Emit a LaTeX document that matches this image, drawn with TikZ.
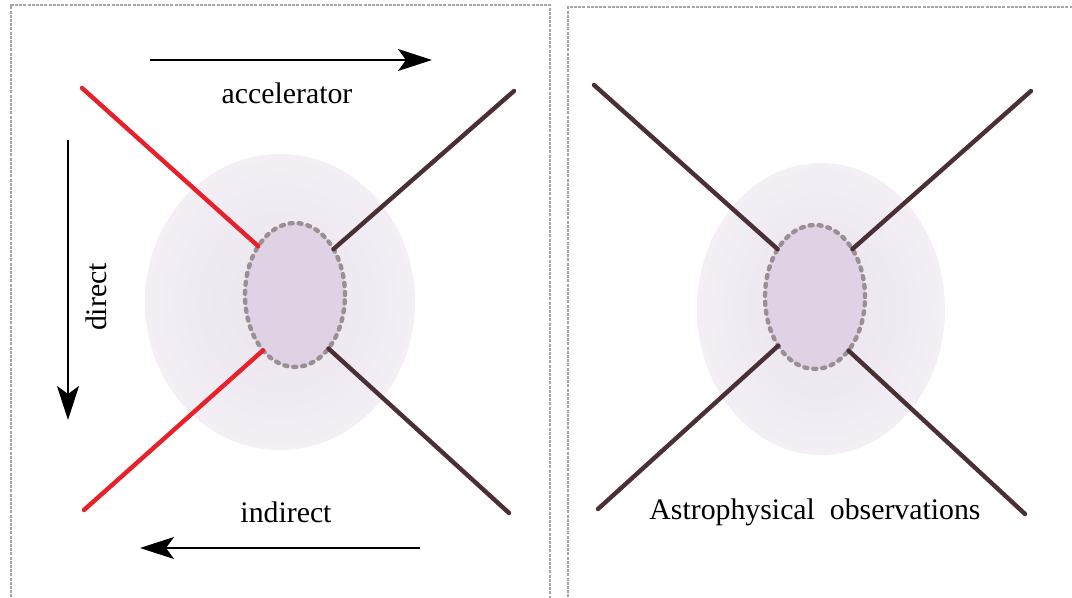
\documentclass[tikz,border=0pt]{standalone}
\usepackage{fontspec}
\setmainfont{Liberation Serif}
\usetikzlibrary{positioning, shapes, arrows.meta, calc}

\definecolor{legred}{HTML}{E8202A}
\definecolor{legdark}{HTML}{4A3035}
\definecolor{blobfill}{HTML}{DED2E4}
\definecolor{blobedge}{HTML}{9A8F93}
\definecolor{glowin}{HTML}{EAE3EE}
\definecolor{glowout}{HTML}{F3EFF5}
\definecolor{frameclr}{HTML}{ABA3A7}
\pgfdeclareradialshading{glow}{\pgfpoint{0bp}{0bp}}{color(0bp)=(glowin); color(25bp)=(glowout); color(50bp)=(glowout)}

\tikzset{
  leg/.style={line width=2.2pt, line cap=round, draw=legdark},
  redleg/.style={leg, draw=legred},
  blob/.style={ellipse, draw=blobedge, fill=blobfill, line width=2.2pt, line cap=round,
    dash pattern=on 1.5pt off 3pt, minimum width=50pt, minimum height=72pt, inner sep=0pt, outer sep=0pt},
  frame/.style={draw=frameclr, line width=1pt, dash pattern=on 1.5pt off 0.6pt},
  flow/.style={-{Stealth[length=17pt, width=11pt, inset=4pt]}, line width=0.8pt},
  lbl/.style={font=\fontsize{14.9}{17}\selectfont, inner sep=0pt}
}

\begin{document}
\begin{tikzpicture}[x=0.5pt, y=-0.5pt]
  \useasboundingbox (0,0) rectangle (1072,598);

  % left panel: accelerator / direct / indirect
  \draw[frame] (11,610) -- (11,5) -- (550,5) -- (550,610);
  \shade[shading=glow] (280,302) ellipse [x radius=135, y radius=148];
  \node[blob] (lblob) at (295,295) {};

  \coordinate (l1) at (82,88);
  \coordinate (l2) at (514,91);
  \coordinate (l3) at (84,510);
  \coordinate (l4) at (509,513);
  \draw[redleg] (l1) -- (lblob.127);
  \draw[leg] (l2) -- (lblob.50);
  \draw[redleg] (l3) -- (lblob.240);
  \draw[leg] (l4) -- (lblob.302);

  \coordinate (accS) at (150,60);
  \coordinate (accE) at (432,60);
  \draw[flow] (accS) -- (accE);
  \node[lbl] (acc) at (287,93) {accelerator};

  \coordinate (dirS) at (68,140);
  \coordinate (dirE) at (68,420);
  \draw[flow] (dirS) -- (dirE);
  \node[lbl, rotate=90] (dir) at (96,297) {direct};

  \coordinate (indS) at (420,548);
  \coordinate (indE) at (140,548);
  \draw[flow] (indS) -- (indE);
  \node[lbl] (ind) at (286,512) {indirect};

  % right panel: astrophysics
  \draw[frame] (568,610) -- (568,7) -- (1080,7);
  \shade[shading=glow] (821,309) ellipse [x radius=124, y radius=146];
  \node[blob] (rblob) at (815,297) {};

  \coordinate (r1) at (594,85);
  \coordinate (r2) at (1031,91);
  \coordinate (r3) at (598,509);
  \coordinate (r4) at (1025,514);
  \draw[leg] (r1) -- (rblob.128);
  \draw[leg] (r2) -- (rblob.52);
  \draw[leg] (r3) -- (rblob.233);
  \draw[leg] (r4) -- (rblob.302);

  \node[lbl] (astro) at (815,512) {Astrophysical\ \ observations};
\end{tikzpicture}
\end{document}
